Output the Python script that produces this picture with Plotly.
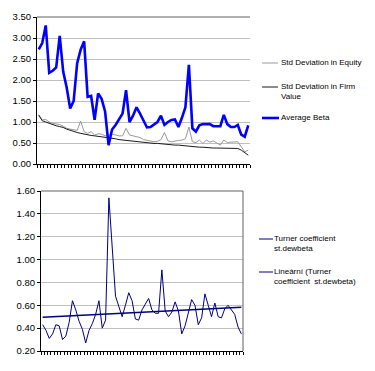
import numpy as np
import plotly.graph_objects as go

# ---------------- data ----------------
periods = list(range(1, 62))

std_equity = [1.15, 1.05, 1.06, 1.00, 0.97, 0.95, 0.94, 0.90, 0.85, 0.83,
              0.81, 0.80, 1.02, 0.77, 0.73, 0.77, 0.69, 0.72, 0.71, 0.67,
              0.69, 0.71, 0.69, 0.67, 0.67, 0.85, 0.69, 0.67, 0.65, 0.63,
              0.58, 0.56, 0.54, 0.53, 0.54, 0.58, 0.75, 0.55, 0.53, 0.55,
              0.56, 0.57, 0.60, 0.88, 0.53, 0.51, 0.57, 0.49, 0.57, 0.52,
              0.55, 0.50, 0.45, 0.57, 0.51, 0.52, 0.52, 0.53, 0.41, 0.29,
              0.33]

std_firm = [1.17, 1.03, 1.00, 0.97, 0.93, 0.91, 0.89, 0.87, 0.83, 0.80,
            0.77, 0.75, 0.73, 0.71, 0.69, 0.68, 0.67, 0.66, 0.65, 0.64,
            0.63, 0.61, 0.60, 0.58, 0.57, 0.56, 0.56, 0.55, 0.54, 0.52,
            0.52, 0.51, 0.50, 0.49, 0.49, 0.48, 0.47, 0.46, 0.46, 0.45,
            0.45, 0.44, 0.43, 0.42, 0.41, 0.41, 0.40, 0.40, 0.39, 0.39,
            0.38, 0.38, 0.38, 0.37, 0.37, 0.37, 0.37, 0.37, 0.33, 0.27,
            0.21]

avg_beta = [2.73, 2.88, 3.30, 2.17, 2.22, 2.30, 3.05, 2.20, 1.82, 1.32,
            1.50, 2.40, 2.72, 2.92, 1.60, 1.62, 1.05, 1.68, 1.55, 1.25,
            0.45, 0.82, 0.93, 1.05, 1.20, 1.76, 1.00, 1.15, 1.35, 1.20,
            1.05, 0.87, 0.88, 0.95, 1.00, 1.15, 0.93, 1.00, 1.05, 1.06,
            0.88, 1.10, 1.35, 2.36, 0.85, 0.77, 0.92, 0.95, 0.95, 0.95,
            0.90, 0.90, 0.90, 1.17, 0.95, 0.88, 0.88, 0.93, 0.70, 0.65,
            0.92]

turner = [0.43, 0.38, 0.31, 0.35, 0.43, 0.42, 0.30, 0.33, 0.45, 0.64,
          0.56, 0.46, 0.39, 0.27, 0.38, 0.44, 0.52, 0.64, 0.40, 0.47,
          1.54, 1.10, 0.68, 0.59, 0.50, 0.60, 0.71, 0.64, 0.48, 0.47,
          0.56, 0.61, 0.66, 0.56, 0.53, 0.53, 0.91, 0.55, 0.50, 0.54,
          0.63, 0.55, 0.35, 0.42, 0.54, 0.65, 0.60, 0.43, 0.49, 0.70,
          0.60, 0.50, 0.62, 0.50, 0.49, 0.57, 0.60, 0.56, 0.52, 0.41,
          0.35]

# linear trendline ("Lineární") fitted to the Turner series
slope, intercept = np.polyfit(periods, turner, 1)
trend = [intercept + slope * p for p in periods]

top_yticks = [0.0, 0.5, 1.0, 1.5, 2.0, 2.5, 3.0, 3.5]
bot_yticks = [0.2, 0.4, 0.6, 0.8, 1.0, 1.2, 1.4, 1.6]

top_names = ["Std Deviation in Equity", "Std Deviation in Firm<br>Value", "Average Beta"]
bot_names = ["Turner coefficient<br>st.dewbeta", "Lineární (Turner<br>coefficient  st.dewbeta)"]

# ---------------- figure ----------------
W, H = 375, 371
FONT = "Liberation Sans, Arial, sans-serif"
C_EQ, C_FIRM, C_BETA, C_TURN = "#999999", "#1a1a1a", "#0000ff", "#000080"


def fx(px):
    return px / W


def fy(py):
    return 1 - py / H


fig = go.Figure()

fig.add_trace(go.Scatter(x=periods, y=std_equity, mode="lines", xaxis="x", yaxis="y",
                         line=dict(color=C_EQ, width=1), name=top_names[0]))
fig.add_trace(go.Scatter(x=periods, y=std_firm, mode="lines", xaxis="x", yaxis="y",
                         line=dict(color=C_FIRM, width=1), name=top_names[1]))
fig.add_trace(go.Scatter(x=periods, y=avg_beta, mode="lines", xaxis="x", yaxis="y",
                         line=dict(color=C_BETA, width=2.6), name=top_names[2]))
fig.add_trace(go.Scatter(x=periods, y=turner, mode="lines", xaxis="x2", yaxis="y2",
                         line=dict(color=C_TURN, width=1), name=bot_names[0]))
fig.add_trace(go.Scatter(x=periods, y=trend, mode="lines", xaxis="x2", yaxis="y2",
                         line=dict(color=C_TURN, width=1.6), name=bot_names[1]))

xtickvals = [p - 0.5 for p in periods] + [periods[-1] + 0.5]
N = len(periods)

common_x = dict(range=[0.5, N + 0.5], tickvals=xtickvals, ticks="outside", ticklen=3,
                tickcolor="black", tickwidth=1, showticklabels=False, showgrid=False,
                showline=True, linecolor="black", linewidth=1, zeroline=False,
                fixedrange=True, automargin=False)
common_y = dict(ticks="outside", ticklen=3, tickcolor="black", tickwidth=1,
                showline=True, linecolor="black", linewidth=1, showgrid=True,
                gridcolor="#c0c0c0", gridwidth=1, zeroline=False, tickformat=".2f",
                tickfont=dict(family=FONT, size=9.5, color="black"), fixedrange=True,
                automargin=False)

fig.update_layout(
    width=W, height=H,
    margin=dict(l=0, r=0, t=0, b=0, autoexpand=False),
    paper_bgcolor="white", plot_bgcolor="white",
    font=dict(family=FONT, size=8, color="black"),
    showlegend=False,
    xaxis=dict(domain=[fx(37), fx(250)], anchor="y", **common_x),
    yaxis=dict(domain=[fy(164), fy(17)], anchor="x", range=[0, 3.5],
               tickvals=top_yticks, **common_y),
    xaxis2=dict(domain=[fx(41), fx(243)], anchor="y2", **common_x),
    yaxis2=dict(domain=[fy(351), fy(191)], anchor="x2", range=[0.2, 1.6],
                tickvals=bot_yticks, **common_y),
)

# plot-area borders (darker top line, right border on the lower chart)
fig.add_shape(type="line", xref="x domain", yref="y domain", x0=0, x1=1, y0=1, y1=1,
              line=dict(color="#606060", width=1))
fig.add_shape(type="line", xref="x2 domain", yref="y2 domain", x0=0, x1=1, y0=1, y1=1,
              line=dict(color="#606060", width=1))
fig.add_shape(type="line", xref="x2 domain", yref="y2 domain", x0=1, x1=1, y0=0, y1=1,
              line=dict(color="#606060", width=1))


# ---------------- legends (key line + label) ----------------
def legend_item(name, color, width, x0, x1, ysym, xtext):
    fig.add_shape(type="line", xref="paper", yref="paper",
                  x0=fx(x0), x1=fx(x1), y0=fy(ysym), y1=fy(ysym),
                  line=dict(color=color, width=width))
    fig.add_annotation(xref="paper", yref="paper", x=fx(xtext), y=fy(ysym - 6),
                       xanchor="left", yanchor="top", align="left", showarrow=False,
                       text=name, font=dict(family=FONT, size=8, color="black"),
                       borderpad=0)


legend_item(top_names[0], C_EQ, 1, 262, 278, 63, 280)
legend_item(top_names[1], C_FIRM, 1, 262, 278, 87, 280)
legend_item(top_names[2], C_BETA, 2.6, 262, 279, 118, 280)
legend_item(bot_names[0], C_TURN, 1, 259, 273, 239, 273)
legend_item(bot_names[1], C_TURN, 1, 259, 273, 272, 273)

# remove the page's default body margin so the figure sits at the window origin
fig.write_html("out.html",
               config={"displayModeBar": False, "staticPlot": True},
               post_script="document.body.style.margin='0';document.body.style.overflow='hidden';")
